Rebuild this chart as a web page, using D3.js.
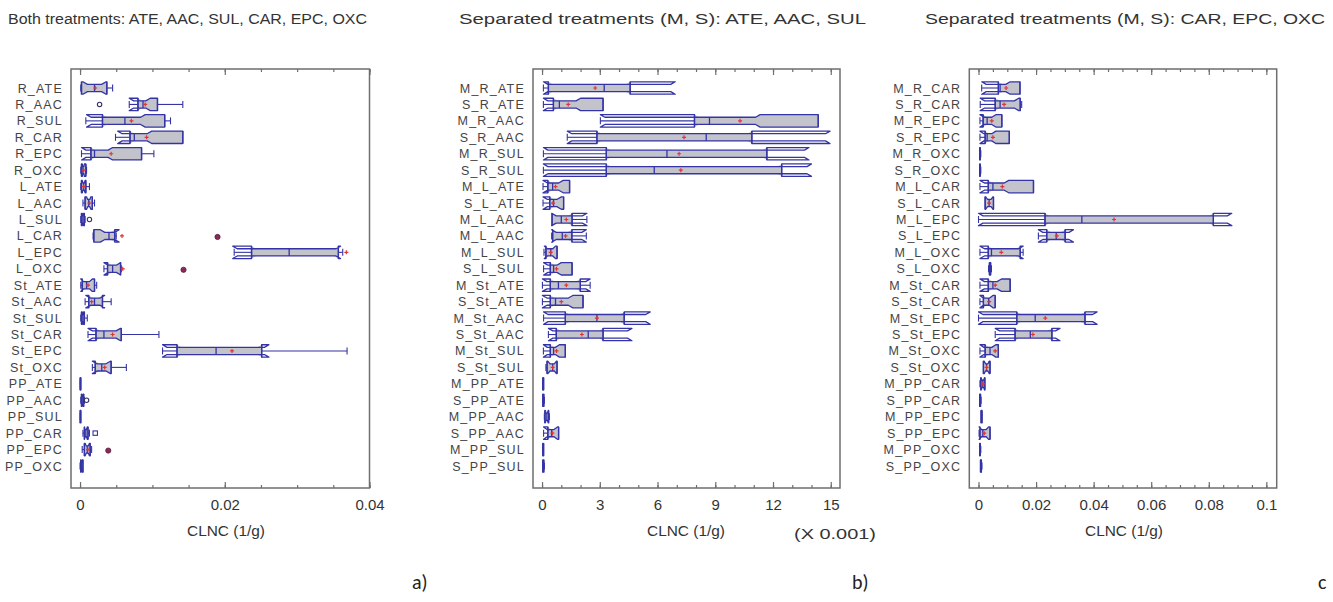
<!DOCTYPE html>
<html><head><meta charset="utf-8">
<script src="https://cdn.jsdelivr.net/npm/d3@7"></script>
<style>body{margin:0;background:#fff}svg{display:block}</style>
</head><body><svg id="c" width="1333" height="602"></svg>
<script>
// ---------- DATA ----------
// each stats row: [min, Q1, median, Q3, max, notchLow, notchHigh, mean]
const catsA = ["R_ATE","R_AAC","R_SUL","R_CAR","R_EPC","R_OXC","L_ATE","L_AAC","L_SUL","L_CAR","L_EPC","L_OXC",
  "St_ATE","St_AAC","St_SUL","St_CAR","St_EPC","St_OXC","PP_ATE","PP_AAC","PP_SUL","PP_CAR","PP_EPC","PP_OXC"];
const statsA = [
  [0.0001,0.0002,0.0020,0.0037,0.0045,0.0004,0.0036,0.0021],
  [0.0068,0.0080,0.0087,0.0107,0.0142,0.0068,0.0097,0.0090],
  [0.0008,0.0031,0.0062,0.0117,0.0125,0.0009,0.0090,0.0071],
  [0.0049,0.0069,0.0075,0.0142,0.0142,0.0052,0.0099,0.0092],
  [0.0002,0.0015,0.0020,0.0085,0.0102,0.0002,0.0045,0.0043],
  [0.0001,0.0002,0.0004,0.0008,0.0009,0.0003,0.0006,0.0005],
  [0.0001,0.0002,0.0005,0.0008,0.0013,0.0003,0.0007,0.0005],
  [0.0004,0.0007,0.0012,0.0017,0.0020,0.0009,0.0015,0.0013],
  [0.0001,0.0002,0.0004,0.0006,0.0007,0.0003,0.0005,0.0004],
  [0.0018,0.0019,0.0040,0.0048,0.0050,0.0028,0.0054,0.0058],
  [0.0213,0.0237,0.0289,0.0357,0.0363,0.0211,0.0360,0.0368],
  [0.0033,0.0038,0.0045,0.0056,0.0057,0.0033,0.0056,0.0059],
  [0.0001,0.0003,0.0009,0.0020,0.0023,0.0001,0.0017,0.0011],
  [0.0007,0.0012,0.0020,0.0031,0.0043,0.0008,0.0034,0.0016],
  [0.0001,0.0002,0.0004,0.0006,0.0010,0.0003,0.0005,0.0004],
  [0.0011,0.0022,0.0033,0.0057,0.0109,0.0011,0.0056,0.0045],
  [0.0114,0.0134,0.0188,0.0251,0.0369,0.0114,0.0261,0.0210],
  [0.0017,0.0021,0.0030,0.0043,0.0064,0.0017,0.0042,0.0034],
  [0.0000,0.00002,0.00005,0.0001,0.00015,0.00003,0.00008,0.00006],
  [0.0001,0.0002,0.0003,0.0005,0.0006,0.0002,0.0004,0.0003],
  [0.0000,0.00002,0.00005,0.0001,0.00015,0.00003,0.00008,0.00006],
  [0.0004,0.0006,0.0008,0.0011,0.0013,0.0006,0.0010,0.0009],
  [0.0003,0.0006,0.0010,0.0014,0.0016,0.0007,0.0013,0.0011],
  [0.0000,0.0001,0.0002,0.0004,0.0004,0.0001,0.0003,0.0002]
];
// outliers: [category, value, kind]  o = open circle, s = open square, f = far (filled)
const outliersA = [["R_AAC",0.0027,"o"],["L_SUL",0.0013,"o"],["L_CAR",0.0190,"f"],["L_OXC",0.0143,"f"],
  ["PP_AAC",0.0009,"o"],["PP_CAR",0.0021,"s"],["PP_EPC",0.0039,"f"]];

const catsB = ["M_R_ATE","S_R_ATE","M_R_AAC","S_R_AAC","M_R_SUL","S_R_SUL","M_L_ATE","S_L_ATE","M_L_AAC","M_L_AAC ",
  "M_L_SUL","S_L_SUL","M_St_ATE","S_St_ATE","M_St_AAC","S_St_AAC","M_St_SUL","S_St_SUL","M_PP_ATE","S_PP_ATE",
  "M_PP_AAC","S_PP_AAC","M_PP_SUL","S_PP_SUL"];
const statsB = [ // units of 0.001
  [0.07,0.33,3.23,4.58,4.58,0.07,6.92,2.76],
  [0.07,0.59,0.90,3.17,3.17,0.07,2.00,1.36],
  [3.03,7.92,8.70,14.35,14.35,3.03,11.33,10.29],
  [1.31,2.85,8.53,10.90,10.90,1.31,14.96,7.38],
  [0.07,3.34,6.49,11.68,11.68,0.07,13.87,7.12],
  [0.07,3.34,5.83,12.45,12.45,0.07,14.00,7.21],
  [0.05,0.30,0.55,1.43,1.43,0.05,1.10,0.70],
  [0.05,0.40,0.60,1.12,1.12,0.05,1.00,0.57],
  [0.50,0.52,1.00,1.56,2.33,0.50,2.33,1.26],
  [0.50,0.55,1.05,1.55,2.30,0.50,2.30,1.22],
  [0.10,0.20,0.45,0.78,0.80,0.12,0.70,0.45],
  [0.08,0.43,0.60,1.56,1.56,0.08,1.00,0.75],
  [0.02,0.43,0.85,1.99,2.50,0.02,2.50,1.26],
  [0.02,0.43,0.70,2.13,2.13,0.02,1.60,1.00],
  [0.08,1.21,2.85,4.27,4.27,0.08,5.62,2.85],
  [0.33,0.74,2.40,3.17,3.17,0.33,4.67,2.07],
  [0.07,0.43,0.60,1.21,1.21,0.07,0.90,0.75],
  [0.20,0.26,0.55,0.78,0.80,0.30,0.75,0.55],
  [0.02,0.04,0.06,0.08,0.10,0.04,0.08,0.06],
  [0.02,0.04,0.06,0.09,0.12,0.04,0.08,0.06],
  [0.12,0.15,0.25,0.34,0.38,0.17,0.32,0.25],
  [0.08,0.30,0.50,0.86,0.86,0.08,0.80,0.54],
  [0.02,0.04,0.06,0.08,0.10,0.04,0.08,0.06],
  [0.02,0.04,0.06,0.09,0.12,0.04,0.08,0.06]
];
const outliersB = [];

const catsC = ["M_R_CAR","S_R_CAR","M_R_EPC","S_R_EPC","M_R_OXC","S_R_OXC","M_L_CAR","S_L_CAR","M_L_EPC","S_L_EPC",
  "M_L_OXC","S_L_OXC","M_St_CAR","S_St_CAR","M_St_EPC","S_St_EPC","M_St_OXC","S_St_OXC","M_PP_CAR","S_PP_CAR",
  "M_PP_EPC","S_PP_EPC","M_PP_OXC","S_PP_OXC"];
const statsC = [
  [0.0011,0.0069,0.0075,0.0144,0.0144,0.0011,0.0110,0.0096],
  [0.0006,0.0058,0.0075,0.0145,0.0150,0.0006,0.0140,0.0089],
  [0.0005,0.0016,0.0030,0.0081,0.0081,0.0005,0.0060,0.0046],
  [0.0005,0.0023,0.0030,0.0107,0.0107,0.0005,0.0060,0.0050],
  [0.0003,0.0004,0.0005,0.0006,0.0008,0.0004,0.0006,0.0005],
  [0.0003,0.0004,0.0005,0.0006,0.0008,0.0004,0.0006,0.0005],
  [0.0005,0.0034,0.0050,0.0191,0.0191,0.0005,0.0105,0.0083],
  [0.0023,0.0023,0.0037,0.0052,0.0052,0.0025,0.0050,0.0037],
  [0.0000,0.0231,0.0359,0.0816,0.0816,0.0000,0.0880,0.0471],
  [0.0208,0.0237,0.0270,0.0301,0.0301,0.0208,0.0330,0.0272],
  [0.0005,0.0034,0.0045,0.0145,0.0155,0.0005,0.0155,0.0079],
  [0.0035,0.0038,0.0040,0.0042,0.0045,0.0039,0.0041,0.0040],
  [0.0005,0.0034,0.0050,0.0110,0.0110,0.0005,0.0080,0.0058],
  [0.0005,0.0017,0.0035,0.0058,0.0058,0.0005,0.0050,0.0037],
  [0.0000,0.0133,0.0197,0.0370,0.0370,0.0000,0.0412,0.0232],
  [0.0058,0.0127,0.0180,0.0255,0.0255,0.0058,0.0283,0.0189],
  [0.0005,0.0023,0.0040,0.0069,0.0069,0.0005,0.0060,0.0058],
  [0.0017,0.0017,0.0028,0.0040,0.0040,0.0020,0.0037,0.0028],
  [0.0005,0.0008,0.0015,0.0022,0.0023,0.0009,0.0021,0.0015],
  [0.0003,0.0004,0.0005,0.0007,0.0009,0.0004,0.0006,0.0005],
  [0.0008,0.0009,0.0011,0.0012,0.0013,0.0010,0.0012,0.0011],
  [0.0002,0.0005,0.0015,0.0040,0.0040,0.0002,0.0035,0.0020],
  [0.0003,0.0004,0.0005,0.0006,0.0008,0.0004,0.0006,0.0005],
  [0.0006,0.0007,0.0009,0.0010,0.0012,0.0008,0.0010,0.0009]
];
const outliersC = [];

const majorA = [0,0.02,0.04], majorLabelsA = ["0","0.02","0.04"];
const majorB = [0,3,6,9,12,15], majorLabelsB = ["0","3","6","9","12","15"];
const majorC = [0,0.02,0.04,0.06,0.08,0.1], majorLabelsC = ["0","0.02","0.04","0.06","0.08","0.1"];
const minorA = d3.range(0,0.0401,0.005), minorB = d3.range(0,15.01,1), minorC = d3.range(0,0.1001,0.005);

const titles = ["Both treatments: ATE, AAC, SUL, CAR, EPC, OXC",
  "Separated treatments (M, S): ATE, AAC, SUL",
  "Separated treatments (M, S): CAR, EPC, OXC"];
const axisTitle = "CLNC (1/g)";
const panelTags = ["a)","b)","c"];

// ---------- LAYOUT ----------
const svg = d3.select("#c");
const TOP = 69, BOT = 488;
const panels = [
  {cats:catsA, stats:statsA, outl:outliersA, dom:[-0.00125,0.04], rng:[71,369.5], major:majorA, mlab:majorLabelsA, minor:minorA,
   title:titles[0], tx:8, tw:359, atx:226, tag:panelTags[0], tagx:412},
  {cats:catsB, stats:statsB, outl:outliersB, dom:[-0.47,15.48], rng:[533,840], major:majorB, mlab:majorLabelsB, minor:minorB,
   title:titles[1], tx:459, tw:407, atx:686, tag:panelTags[1], tagx:852},
  {cats:catsC, stats:statsC, outl:outliersC, dom:[-0.0032,0.1036], rng:[969.3,1276.7], major:majorC, mlab:majorLabelsC, minor:minorC,
   title:titles[2], tx:925, tw:400, atx:1124, tag:panelTags[2], tagx:1318}
];

const BLUE = "#3434a6", FILL = "#c3c3cb", TXT = "#333", FRAME = "#6e6e6e";
const FONT = "'Liberation Sans', Arial, sans-serif";

panels.forEach((p, pi) => {
  const g = svg.append("g");
  const x = d3.scaleLinear().domain(p.dom).range(p.rng);
  const y = d3.scalePoint().domain(p.cats).range([88, 466]);

  // title
  g.append("text").attr("x", p.tx).attr("y", 24).attr("font-family", FONT).attr("font-size", 15.5)
    .attr("fill", TXT).attr("textLength", p.tw).attr("lengthAdjust", "spacingAndGlyphs").text(p.title);

  // category labels
  g.selectAll("text.cat").data(p.cats).join("text").attr("class","cat")
    .attr("x", p.rng[0] - 8).attr("y", d => y(d) + 4.5).attr("text-anchor","end")
    .attr("font-family", FONT).attr("font-size", 12.5).attr("letter-spacing", 1.2).attr("fill", "#444")
    .text(d => d.trim());

  // ticks (inward) top & bottom
  const mkAxis = (gen, yPos, vals, size) => {
    const a = g.append("g").attr("transform", `translate(0,${yPos})`)
      .call(gen(x).tickValues(vals).tickSize(size).tickFormat(""));
    a.select(".domain").remove();
    a.selectAll("line").attr("stroke", FRAME).attr("stroke-width", 1.2);
  };
  mkAxis(d3.axisBottom, TOP, p.minor, 3);
  mkAxis(d3.axisBottom, TOP, p.major, 6);
  mkAxis(d3.axisTop, BOT, p.minor, 3);
  mkAxis(d3.axisTop, BOT, p.major, 6);

  // tick labels
  const lab = g.append("g").attr("transform", `translate(0,${BOT})`)
    .call(d3.axisBottom(x).tickValues(p.major).tickSize(0).tickPadding(11).tickFormat((d,i) => p.mlab[i]));
  lab.select(".domain").remove();
  lab.selectAll("text").attr("font-family", FONT).attr("font-size", 15).attr("fill", TXT);

  // frame
  g.append("rect").attr("x", p.rng[0]).attr("y", TOP).attr("width", p.rng[1]-p.rng[0]).attr("height", BOT-TOP)
    .attr("fill","none").attr("stroke", FRAME).attr("stroke-width", 1.5);

  // axis title
  g.append("text").attr("x", p.atx).attr("y", 536).attr("text-anchor","middle").attr("font-family", FONT)
    .attr("font-size", 15).attr("fill", TXT).attr("textLength", 78).attr("lengthAdjust","spacingAndGlyphs").text(axisTitle);
  if (pi === 1) {
    g.append("text").attr("x", 794).attr("y", 539).attr("font-family", FONT).attr("font-size", 15)
      .attr("fill", TXT).attr("textLength", 82).attr("lengthAdjust","spacingAndGlyphs").text("(X 0.001)");
  }
  g.append("text").attr("x", p.tagx).attr("y", 589).attr("font-family", "Calibri, Carlito, 'Liberation Sans', sans-serif")
    .attr("font-size", 20).attr("fill", "#222").text(p.tag);

  // boxes
  const H = 6.2;           // half height
  const IND = H * 0.42;    // notch indentation
  p.cats.forEach((c, i) => {
    const [mn,q1,md,q3,mx,nl,nh,mean] = p.stats[i];
    const yc = y(c);
    const X1 = x(q1), X3 = x(q3), XM = x(md), XNL = x(nl), XNH = x(nh);
    const bg = g.append("g");
    // whiskers
    const wl = (a,b) => bg.append("line").attr("x1",a).attr("x2",b).attr("y1",yc).attr("y2",yc)
      .attr("stroke", BLUE).attr("stroke-width", 1.1);
    if (x(mn) < X1 - 0.5) wl(x(mn), X1);
    if (x(mx) > X3 + 0.5) wl(X3, x(mx));
    [mn, mx].forEach(v => {
      if ((v === mn && x(mn) < X1 - 0.5) || (v === mx && x(mx) > X3 + 0.5))
        bg.append("line").attr("x1",x(v)).attr("x2",x(v)).attr("y1",yc-3.5).attr("y2",yc+3.5)
          .attr("stroke", BLUE).attr("stroke-width", 1.1);
    });
    const poly = (a, b, l, h, s) => [
      [a, yc-H],[l, yc-H],[l+s, yc-H+IND],[h-s, yc-H+IND],[h, yc-H],[b, yc-H],
      [b, yc+H],[h, yc+H],[h-s, yc+H-IND],[l+s, yc+H-IND],[l, yc+H],[a, yc+H]];
    const line = d3.line();
    // fill (notch clamped to box)
    let cl = Math.max(XNL, X1), ch = Math.min(XNH, X3);
    if (ch < cl) { cl = ch = XM; }
    const sF = Math.min(4.5, (ch - cl) / 2, (XNH - XNL) / 4);
    bg.append("path").attr("d", line(poly(X1, X3, cl, ch, sF)) + "Z").attr("fill", FILL).attr("stroke", "none");
    // outline (full notch)
    const sO = Math.min(4.5, (XNH - XNL) / 4);
    bg.append("path").attr("d", line(poly(X1, X3, XNL, XNH, sO)) + "Z").attr("fill", "none")
      .attr("stroke", BLUE).attr("stroke-width", 1.3).attr("stroke-linejoin","round");
    // box ends
    [X1, X3].forEach(v => bg.append("line").attr("x1",v).attr("x2",v).attr("y1",yc-H).attr("y2",yc+H)
      .attr("stroke", BLUE).attr("stroke-width", 1.3));
    // median
    bg.append("line").attr("x1",XM).attr("x2",XM).attr("y1",yc-H+IND).attr("y2",yc+H-IND)
      .attr("stroke", BLUE).attr("stroke-width", 1.3);
    // mean
    if (X3 - X1 > 4 || Math.abs(x(mean) - X3) > 3) {
      const xm = x(mean);
      bg.append("path").attr("d", `M${xm-2},${yc}H${xm+2}M${xm},${yc-2}V${yc+2}`)
        .attr("stroke", "#e03535").attr("stroke-width", 1.2);
    }
  });

  // outliers
  p.outl.forEach(([c, v, k]) => {
    const cx = x(v), cy = y(c);
    if (k === "f") {
      g.append("circle").attr("cx",cx).attr("cy",cy+1).attr("r",2.6).attr("fill","#8a2a55").attr("stroke","#552244").attr("stroke-width",0.8);
    } else if (k === "s") {
      g.append("rect").attr("x",cx-2.2).attr("y",cy-2.2).attr("width",4.4).attr("height",4.4)
        .attr("fill","none").attr("stroke",BLUE).attr("stroke-width",1.1);
    } else {
      g.append("circle").attr("cx",cx).attr("cy",cy).attr("r",2.2).attr("fill","none").attr("stroke","#333366").attr("stroke-width",1.1);
    }
  });
});
</script>
</body></html>
